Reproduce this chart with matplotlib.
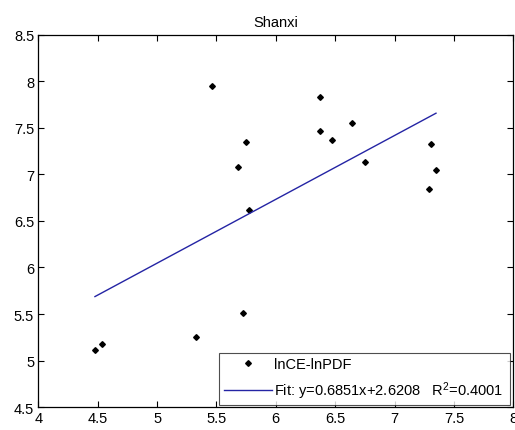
import matplotlib
matplotlib.use("Agg")
import matplotlib.pyplot as plt
import numpy as np

plt.rcParams['font.family'] = ['Liberation Sans', 'DejaVu Sans']
plt.rcParams['mathtext.default'] = 'regular'

title = "Shanxi"
x_vals = [5.463, 5.746, 5.682, 5.772, 6.376, 6.370, 6.644, 6.476, 6.754,
          7.304, 7.349, 7.293, 4.477, 4.534, 5.331, 5.724]
y_vals = [7.951, 7.343, 7.078, 6.620, 7.829, 7.461, 7.554, 7.365, 7.135,
          7.322, 7.043, 6.842, 5.115, 5.182, 5.254, 5.512]
slope = 0.6851
intercept = 2.6208
r2 = 0.4001
scatter_label = "lnCE-lnPDF"
xticks = [4, 4.5, 5, 5.5, 6, 6.5, 7, 7.5, 8]
yticks = [4.5, 5, 5.5, 6, 6.5, 7, 7.5, 8, 8.5]

fig = plt.figure(figsize=(5.15, 4.31), dpi=100)
ax = fig.add_axes([0.0744, 0.0527, 0.9223, 0.8649])

ax.plot(x_vals, y_vals, linestyle='none', marker='D', markersize=2.9,
        color='black', label=scatter_label)
xf = np.array([min(x_vals), max(x_vals)])
ax.plot(xf, slope * xf + intercept, color='#2424a4', linewidth=1.0,
        label=f"Fit: y={slope:.4f}x+{intercept:.4f}   R$^2$={r2:.4f}")

ax.set_xlim(4, 8)
ax.set_ylim(4.5, 8.5)
ax.set_xticks(xticks)
ax.set_yticks(yticks)
ax.set_xticklabels([f"{t:g}" for t in xticks])
ax.set_yticklabels([f"{t:g}" for t in yticks])
ax.tick_params(direction='in', length=4, width=0.8, labelsize=10.5,
               top=True, right=True, pad=3)
for s in ax.spines.values():
    s.set_linewidth(0.9)
ax.set_title(title, fontsize=10.5, pad=6)

leg = ax.legend(loc='lower left', bbox_to_anchor=(0.381, 0.006, 0.613, 0.144),
                mode='expand', fontsize=10.5, handlelength=3.3,
                handletextpad=0.15, labelspacing=0.55, borderpad=0.3,
                fancybox=False, frameon=True, borderaxespad=0)
leg.get_frame().set_edgecolor('#222222')
leg.get_frame().set_linewidth(0.8)

fig.savefig("out.png", dpi=100, facecolor='white')
